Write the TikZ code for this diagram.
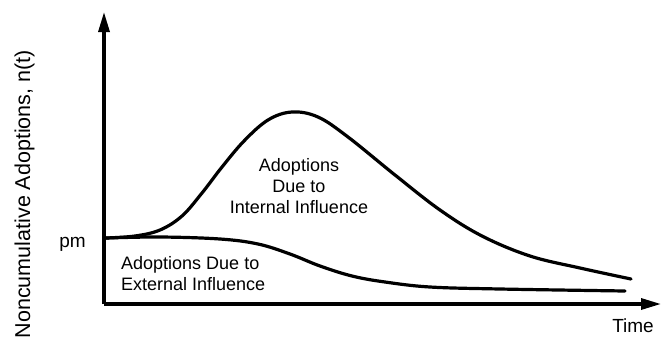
\documentclass[tikz,border=0pt]{standalone}
\usepackage{fontspec}
\setmainfont{Liberation Sans}
\usetikzlibrary{arrows.meta}
\tikzset{
  axis/.style={line width=3.2pt,-{Triangle[length=20pt,width=11pt]}},
  curve/.style={line width=3.2pt,line cap=round},
  lbl/.style={font=\fontsize{18}{21}\selectfont,inner sep=0pt},
}

\begin{document}
\begin{tikzpicture}[x=1pt,y=-1pt]
\useasboundingbox (0,0) rectangle (661,338);

\coordinate (O) at (104,304);
\coordinate (Ytop) at (104,12);
\coordinate (Xend) at (661,304);
\coordinate (P) at (106,238);

\draw[axis] (O) -- (Ytop);
\draw[axis] (O) -- (Xend);

\draw[curve] plot[smooth,tension=0.6] coordinates {(P) (135,236) (160,230) (182,216)
  (202,193) (222,167) (244,141) (268,120) (292,112) (318,117) (348,137)
  (395,175) (440,210) (482,236) (530,256) (580,268) (631,279)};
\draw[curve] plot[smooth,tension=0.6] coordinates {(P) (160,237) (220,239)
  (258,244) (290,254) (320,266) (352,276) (385,282) (430,287) (500,289) (625,291)};

\node[lbl,font=\fontsize{19}{22}\selectfont,anchor=base east] (pm) at (86,247) {pm};
\node[lbl,font=\fontsize{19}{22}\selectfont,anchor=base east] (time) at (654,332) {Time};
\node[lbl,font=\fontsize{21.5}{24}\selectfont,anchor=base east,rotate=90] (ylbl) at (30,50) {Noncumulative Adoptions, n(t)};
\node[lbl,align=center,anchor=base] (int) at (299,213) {Adoptions\\Due to\\Internal Influence};
\node[lbl,align=left,anchor=base west] (ext) at (121,290) {Adoptions Due to\\External Influence};

\end{tikzpicture}
\end{document}
